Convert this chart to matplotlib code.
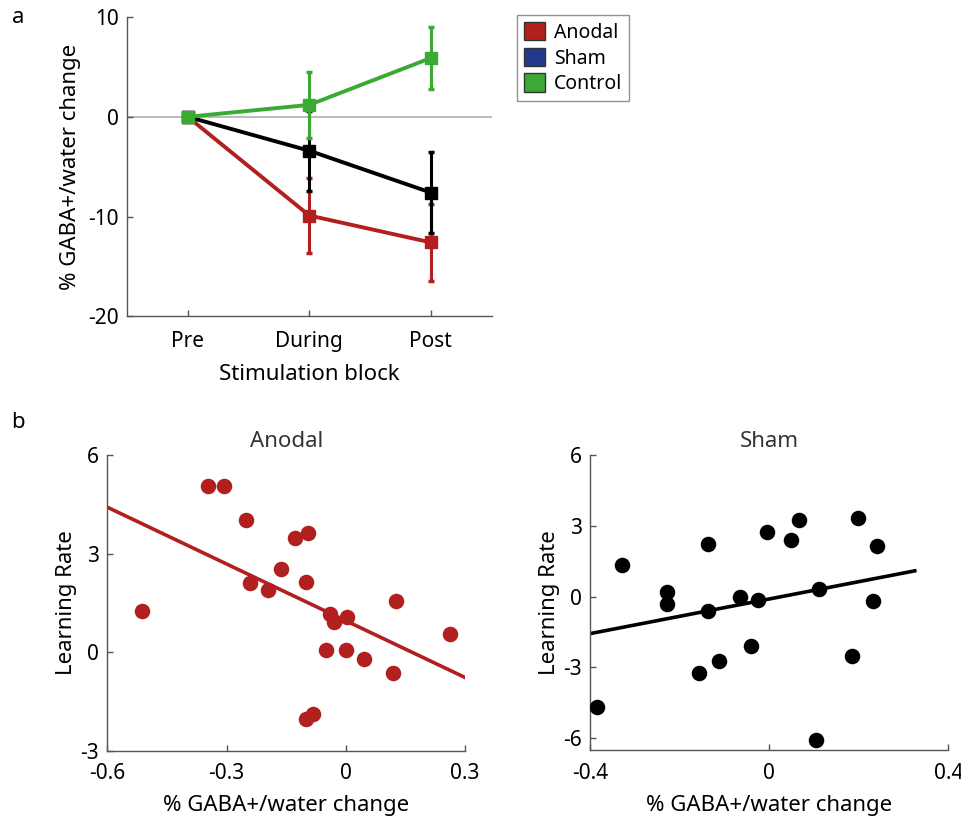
import numpy as np
import matplotlib
matplotlib.use("Agg")
import matplotlib.pyplot as plt
from matplotlib.patches import Patch

plt.rcParams['font.family'] = ['Noto Sans', 'DejaVu Sans']
plt.rcParams['axes.unicode_minus'] = False

# colours
RED = '#b21f1f'
GREEN = '#3aaa35'
BLUE = '#23398c'
BLACK = '#000000'

# panel a: % change per stimulation block
blocks = ['Pre', 'During', 'Post']
anodal_mean = [0, -9.9, -12.6]
anodal_err = [0, 3.8, 3.9]
sham_mean = [0, -3.4, -7.6]
sham_err = [0, 4.0, 4.1]
control_mean = [0, 1.2, 5.9]
control_err = [0, 3.3, 3.1]

# panel b: learning rate vs GABA change
anodal_x = [-0.512, -0.346, -0.306, -0.250, -0.241, -0.197, -0.163, -0.127, -0.096,
            -0.100, -0.040, -0.029, 0.002, -0.050, 0.001, 0.046, 0.118, 0.126, 0.262,
            -0.100, -0.082]
anodal_y = [1.26, 5.06, 5.06, 4.03, 2.10, 1.89, 2.52, 3.48, 3.62,
            2.13, 1.15, 0.93, 1.08, 0.05, 0.08, -0.20, -0.64, 1.56, 0.55,
            -2.04, -1.88]
sham_x = [-0.385, -0.328, -0.227, -0.228, -0.137, -0.137, -0.157, -0.111, -0.066,
          -0.041, -0.024, -0.005, 0.049, 0.067, 0.111, 0.104, 0.185, 0.198, 0.231, 0.241]
sham_y = [-4.69, 1.36, 0.21, -0.30, 2.22, -0.59, -3.23, -2.71, -0.03,
          -2.08, -0.14, 2.73, 2.40, 3.26, 0.31, -6.09, -2.51, 3.32, -0.20, 2.16]

# fitted lines (slope, intercept, x extent)
anodal_fit = (-5.76, 0.956, (-0.6, 0.3))
sham_fit = (3.67, -0.10, (-0.4, 0.325))

fig = plt.figure(figsize=(9.62, 8.17), dpi=100)

def style_axes(ax, pad=6):
    for s in ['top', 'right']:
        ax.spines[s].set_visible(False)
    for s in ['left', 'bottom']:
        ax.spines[s].set_color('#555555')
        ax.spines[s].set_linewidth(1.0)
    ax.tick_params(direction='in', length=4, width=1.0, color='#555555',
                   labelsize=15, labelcolor='black', pad=pad)

# ---- panel a
ax = fig.add_axes([0.132, 0.613, 0.379, 0.366])
xs = np.arange(1, len(blocks) + 1)
ax.axhline(0, color='#b0b0b0', lw=1.2, zorder=0)
for m, e, c in [(anodal_mean, anodal_err, RED), (sham_mean, sham_err, BLACK),
                (control_mean, control_err, GREEN)]:
    ax.errorbar(xs, m, yerr=e, color=c, lw=2.8, elinewidth=2.2, capsize=2,
                capthick=2.5, marker='s', markersize=9)
ax.set_xlim(0.5, 3.5)
ax.set_ylim(-20, 10)
ax.set_xticks(xs)
ax.set_xticklabels(blocks)
ax.set_yticks([-20, -10, 0, 10])
ax.set_xlabel('Stimulation block', fontsize=16, labelpad=8)
ax.set_ylabel('% GABA+/water change', fontsize=16, labelpad=5)
style_axes(ax)
ax.tick_params(axis='x', pad=11)

handles = [Patch(facecolor=RED, edgecolor='#333333', label='Anodal'),
           Patch(facecolor=BLUE, edgecolor='#333333', label='Sham'),
           Patch(facecolor=GREEN, edgecolor='#333333', label='Control')]
leg = fig.legend(handles=handles, loc='upper left',
                 bbox_to_anchor=(517 / 962, 1 - 15 / 817), fontsize=14,
                 fancybox=False, edgecolor='#777777', handlelength=1.1,
                 handleheight=1.1, handletextpad=0.45, borderpad=0.35,
                 labelspacing=0.25, borderaxespad=0)
leg.get_frame().set_linewidth(1.0)

fig.text(0.012, 0.978, 'a', fontsize=16, va='center')
fig.text(0.012, 0.483, 'b', fontsize=16, va='center')

# ---- panel b
def scatter_panel(rect, x, y, fit, color, title, xlim, ylim, xt, yt):
    ax = fig.add_axes(rect)
    ax.scatter(x, y, s=125, color=color, zorder=3, linewidths=0)
    k, b, (x0, x1) = fit
    lx = np.array([x0, x1])
    ax.plot(lx, k * lx + b, color=color, lw=2.6, zorder=2)
    ax.set_xlim(*xlim)
    ax.set_ylim(*ylim)
    ax.set_xticks(xt)
    ax.set_xticklabels([f'{v:g}' for v in xt])
    ax.set_yticks(yt)
    ax.set_xlabel('% GABA+/water change', fontsize=16, labelpad=8)
    ax.set_ylabel('Learning Rate', fontsize=16, labelpad=2)
    ax.set_title(title, fontsize=16, color='#333333', pad=6)
    style_axes(ax)
    ax.tick_params(axis='x', pad=9)
    return ax

scatter_panel([0.1116, 0.0812, 0.3718, 0.3618], anodal_x, anodal_y, anodal_fit,
              RED, 'Anodal', (-0.6, 0.3), (-3, 6), [-0.6, -0.3, 0, 0.3], [-3, 0, 3, 6])
scatter_panel([0.6133, 0.082, 0.3725, 0.361], sham_x, sham_y, sham_fit,
              BLACK, 'Sham', (-0.4, 0.4), (-6.5, 6), [-0.4, 0, 0.4], [-6, -3, 0, 3, 6])

fig.savefig('out.png', dpi=100)
